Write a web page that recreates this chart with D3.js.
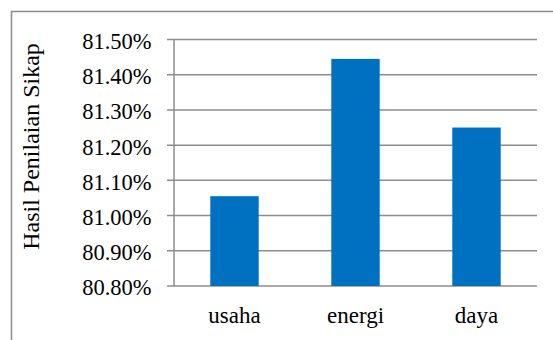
<!DOCTYPE html>
<html>
<head>
<meta charset="utf-8">
<script src="https://cdn.jsdelivr.net/npm/d3@7"></script>
<style>
  body { margin: 0; background: #fff; }
</style>
</head>
<body>
<div id="chart"></div>
<script>
// Data
const categories = ["usaha", "energi", "daya"];
const values = [81.055, 81.445, 81.25];
const yTicks = [80.8, 80.9, 81.0, 81.1, 81.2, 81.3, 81.4, 81.5];
const yTitle = "Hasil Penilaian Sikap";

const width = 553, height = 340;
const plot = { left: 174, right: 537, top: 39.5, bottom: 286 };
const font = "Liberation Serif";

const svg = d3.select("#chart")
    .append("svg")
    .attr("width", width)
    .attr("height", height);

// Outer chart border (only top and left visible in the crop)
svg.append("rect")
    .attr("x", 11.5)
    .attr("y", 11.5)
    .attr("width", width + 20)
    .attr("height", height + 20)
    .attr("fill", "none")
    .attr("stroke", "#8c8c8c")
    .attr("stroke-width", 1.5);

const x = d3.scaleBand()
    .domain(categories)
    .range([plot.left, plot.right])
    .paddingInner(0.6)
    .paddingOuter(0.3);

const y = d3.scaleLinear()
    .domain([80.8, 81.5])
    .range([plot.bottom, plot.top]);

// Gridlines and tick marks
svg.append("g")
    .selectAll("line")
    .data(yTicks)
    .enter().append("line")
    .attr("x1", plot.left - 7)
    .attr("x2", plot.right)
    .attr("y1", d => y(d))
    .attr("y2", d => y(d))
    .attr("stroke", "#8c8c8c")
    .attr("stroke-width", 1.5);

// Bars
svg.append("g")
    .selectAll("rect")
    .data(categories)
    .enter().append("rect")
    .attr("x", d => x(d))
    .attr("y", (d, i) => y(values[i]))
    .attr("width", x.bandwidth())
    .attr("height", (d, i) => y(80.8) - y(values[i]))
    .attr("fill", "#0070c0");

// Y axis line
svg.append("line")
    .attr("x1", plot.left)
    .attr("x2", plot.left)
    .attr("y1", plot.top)
    .attr("y2", plot.bottom)
    .attr("stroke", "#8c8c8c")
    .attr("stroke-width", 1.5);

// Y tick labels
svg.append("g")
    .selectAll("text")
    .data(yTicks)
    .enter().append("text")
    .attr("x", 151.5)
    .attr("y", d => y(d) + 1.5)
    .attr("dy", "0.35em")
    .attr("text-anchor", "end")
    .attr("font-family", font)
    .attr("font-size", 22.5)
    .text(d => d.toFixed(2) + "%");

// X labels
svg.append("g")
    .selectAll("text")
    .data(categories)
    .enter().append("text")
    .attr("x", d => x(d) + x.bandwidth() / 2)
    .attr("y", 322.5)
    .attr("text-anchor", "middle")
    .attr("font-family", font)
    .attr("font-size", 23)
    .text(d => d);

// Y title
svg.append("text")
    .attr("transform", "translate(39,146.5) rotate(-90)")
    .attr("text-anchor", "middle")
    .attr("font-family", font)
    .attr("font-size", 24)
    .text(yTitle);
</script>
</body>
</html>
